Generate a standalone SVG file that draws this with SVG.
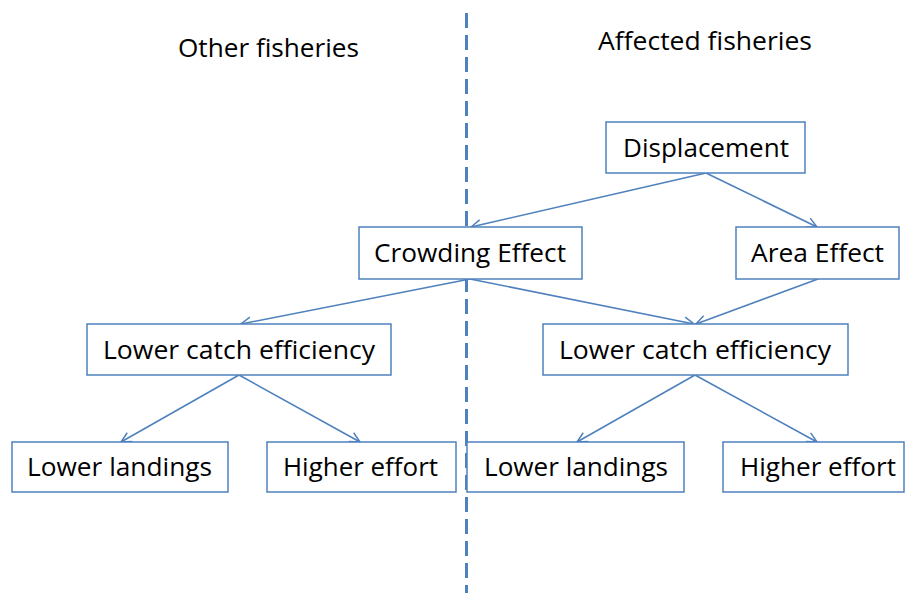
<svg xmlns="http://www.w3.org/2000/svg" width="905" height="593" viewBox="0 0 905 593">
<defs>
<marker id="arr" viewBox="0 0 12 12" refX="11" refY="6" markerWidth="12" markerHeight="12" markerUnits="userSpaceOnUse" orient="auto">
<path d="M1,1 L11,6 L1,11" fill="none" stroke="#4F81BD" stroke-width="1.5"/>
</marker>
</defs>
<style>
.box{fill:#fff;stroke:#4F81BD;stroke-width:1.5}
.t{font-family:"Open Sans","Liberation Sans",Arial,sans-serif;font-size:25px;fill:#000;text-anchor:middle}
.c{stroke:#4F81BD;stroke-width:1.6;fill:none;marker-end:url(#arr)}
</style>
<rect width="905" height="593" fill="#fff"/>
<line x1="466.5" y1="13" x2="466.5" y2="593" stroke="#4F81BD" stroke-width="3" stroke-dasharray="15,7"/>
<text class="t" x="268.5" y="57" textLength="181" lengthAdjust="spacingAndGlyphs">Other fisheries</text>
<text class="t" x="705" y="50" textLength="214" lengthAdjust="spacingAndGlyphs">Affected fisheries</text>
<g id="connectors">
<line class="c" x1="706" y1="173" x2="471" y2="227"/>
<line class="c" x1="706" y1="173" x2="817" y2="227"/>
<line class="c" x1="470" y1="279" x2="241" y2="324"/>
<line class="c" x1="470" y1="279" x2="694" y2="324"/>
<line class="c" x1="818" y1="279" x2="696" y2="324"/>
<line class="c" x1="239" y1="375" x2="121" y2="442"/>
<line class="c" x1="239" y1="375" x2="360" y2="442"/>
<line class="c" x1="695" y1="375" x2="577" y2="442"/>
<line class="c" x1="695" y1="375" x2="817" y2="442"/>
</g>
<g id="displacement"><rect class="box" x="606" y="122" width="199" height="51"/><text class="t" x="706" y="157" textLength="166" lengthAdjust="spacingAndGlyphs">Displacement</text></g>
<g id="crowding"><rect class="box" x="359" y="227" width="223" height="52"/><text class="t" x="470" y="262" textLength="192" lengthAdjust="spacingAndGlyphs">Crowding Effect</text></g>
<g id="area"><rect class="box" x="736" y="227" width="163" height="52"/><text class="t" x="817.5" y="262" textLength="133" lengthAdjust="spacingAndGlyphs">Area Effect</text></g>
<g id="lce-left"><rect class="box" x="87" y="324" width="304" height="51"/><text class="t" x="239" y="359" textLength="272" lengthAdjust="spacingAndGlyphs">Lower catch efficiency</text></g>
<g id="lce-right"><rect class="box" x="543" y="324" width="305" height="51"/><text class="t" x="695" y="359" textLength="272" lengthAdjust="spacingAndGlyphs">Lower catch efficiency</text></g>
<g id="ll-left"><rect class="box" x="12" y="442" width="216" height="50"/><text class="t" x="119.5" y="476" textLength="185" lengthAdjust="spacingAndGlyphs">Lower landings</text></g>
<g id="he-left"><rect class="box" x="267" y="442" width="189" height="50"/><text class="t" x="360.5" y="476" textLength="155" lengthAdjust="spacingAndGlyphs">Higher effort</text></g>
<g id="ll-right"><rect class="box" x="467" y="442" width="217" height="50"/><text class="t" x="576" y="476" textLength="184" lengthAdjust="spacingAndGlyphs">Lower landings</text></g>
<g id="he-right"><rect class="box" x="723" y="442" width="181" height="50"/><text class="t" x="818" y="476" textLength="156" lengthAdjust="spacingAndGlyphs">Higher effort</text></g>
</svg>
